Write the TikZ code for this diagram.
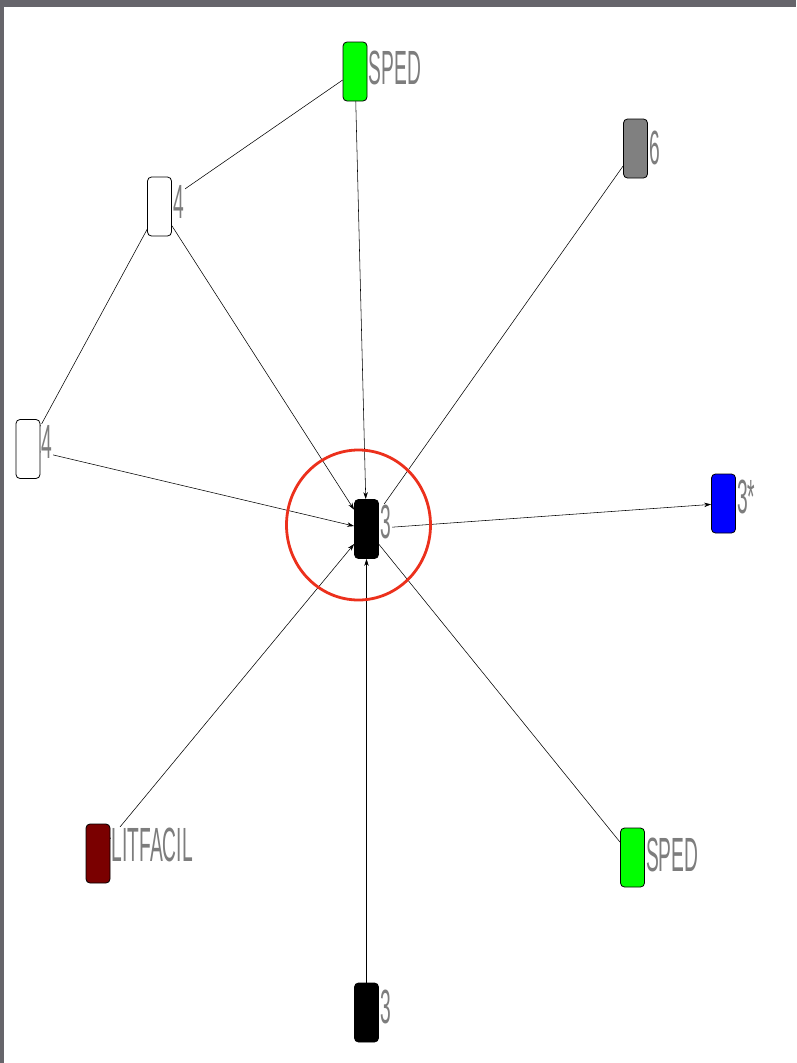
\documentclass[tikz,border=0pt]{standalone}
\usepackage{fontspec}
\setmainfont{Liberation Sans}
\usetikzlibrary{arrows.meta,backgrounds}
\definecolor{framegray}{RGB}{102,101,107}
\definecolor{labgray}{RGB}{125,125,125}
\definecolor{ringred}{RGB}{236,48,28}
\definecolor{nodegreen}{RGB}{0,255,0}
\definecolor{nodegray}{RGB}{128,128,128}
\definecolor{nodeblue}{RGB}{0,0,255}
\definecolor{nodemaroon}{RGB}{122,0,0}
\tikzset{
  vtx/.style={rectangle, rounded corners=4pt, draw=black, line width=0.8pt,
    minimum width=24pt, minimum height=59pt, inner sep=0pt},
  lab/.style={anchor=west, text=labgray, fill=white, inner sep=1pt,
    font=\fontsize{48}{48}\selectfont},
  edge/.style={draw=black, line width=0.55pt},
  arc/.style={edge, -{Stealth[length=7pt,width=4.5pt]}},
}
\newcommand{\sq}[1]{\scalebox{0.40}[1]{#1}}
\begin{document}
\begin{tikzpicture}[x=1pt,y=-1pt]
\useasboundingbox (0,0) rectangle (796,1063);
\begin{pgfonlayer}{background}
  \fill[framegray] (0,0) rectangle (796,1063);
  \fill[white] (4,7) rectangle (796,1063);
\end{pgfonlayer}
% vertices
\node[vtx, fill=nodegreen] (s1) at (355,71.5) {};
\node[vtx, fill=white] (u4) at (159.5,206.5) {};
\node[vtx, fill=white] (l4) at (28,449) {};
\node[vtx, fill=black] (c) at (366.5,529) {};
\node[vtx, fill=nodeblue] (b3s) at (723.5,503.5) {};
\node[vtx, fill=nodegray] (six) at (635.5,148.5) {};
\node[vtx, fill=nodemaroon] (lit) at (98,853.5) {};
\node[vtx, fill=nodegreen] (s2) at (632.5,857.5) {};
\node[vtx, fill=black] (b3) at (366.5,1012.5) {};
% edges
\begin{pgfonlayer}{background}
  \draw[edge] (s1) -- (u4);
  \draw[edge] (u4) -- (l4);
  \draw[arc] (u4) -- (c);
  \draw[arc] (s1) -- (c);
  \draw[arc] (l4) -- (c);
  \draw[edge] (c) -- (six);
  \draw[arc] (c) -- (b3s);
  \draw[edge] (c) -- (s2);
  \draw[arc] (lit) -- (c);
  \draw[arc] (b3) -- (c);
\end{pgfonlayer}
% labels
\node[lab, yshift=4pt] (ls1) at (s1.east) {\sq{SPED}};
\node[lab, yshift=5pt] (lu4) at (u4.east) {\sq{4}};
\node[lab, yshift=7pt] (ll4) at (l4.east) {\sq{4}};
\node[lab, yshift=7pt] (lc) at (c.east) {\sq{3}};
\node[lab, yshift=7pt] (lb3s) at (b3s.east) {\sq{3*}};
\node[lab, yshift=1pt] (lsix) at (six.east) {\sq{6}};
\node[lab, yshift=9pt] (llit) at (lit.east) {\sq{LITFACIL}};
\node[lab, yshift=3pt] (ls2) at (s2.east) {\sq{SPED}};
\node[lab, yshift=6pt] (lb3) at (b3.east) {\sq{3}};
% highlight ring
\draw[ringred, line width=2.8pt] (358.5,525) ellipse [x radius=72, y radius=75];
\end{tikzpicture}
\end{document}
